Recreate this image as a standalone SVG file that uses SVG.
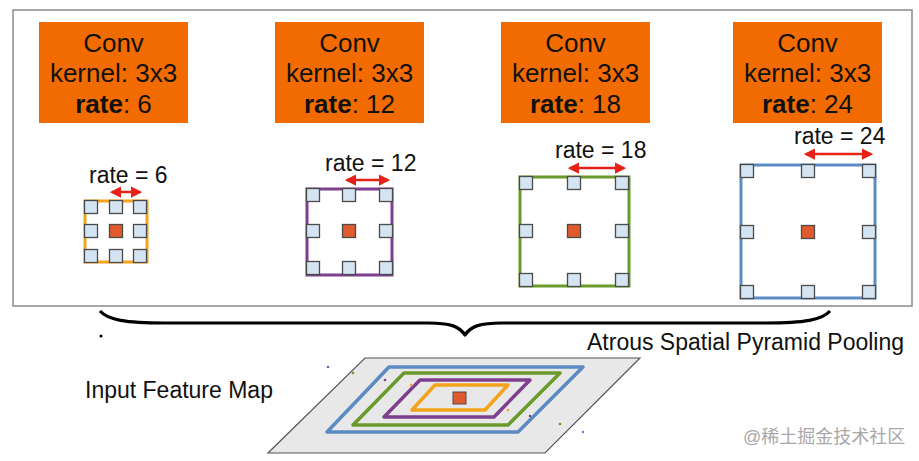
<svg xmlns="http://www.w3.org/2000/svg" width="919" height="461" viewBox="0 0 919 461">
<defs>
<style>
.conv{fill:#f26b00}
.ct{font-family:"Liberation Sans",Arial,sans-serif;font-size:26px;fill:#111;text-anchor:middle}
.lbl{font-family:"Liberation Sans",Arial,sans-serif;font-size:23px;fill:#111}
.cell{fill:#d4e4f2;stroke:#4a4a4a;stroke-width:1.3}
.ctr{fill:#e05a2e;stroke:#4a4a4a;stroke-width:1.3}
.arr{stroke:#e62117;stroke-width:2.5;fill:none;marker-start:url(#ah);marker-end:url(#ah)}
.plane{fill:none;stroke-width:3.5;stroke-linejoin:round}
</style>
<marker id="ah" viewBox="0 0 10 10" refX="8" refY="5" markerWidth="4.5" markerHeight="4.5" orient="auto-start-reverse" markerUnits="strokeWidth">
<path d="M0,0 L10,5 L0,10 Z" fill="#e62117"/>
</marker>
</defs>
<rect x="0" y="0" width="919" height="461" fill="#fff"/>
<rect id="frame" x="13" y="10" width="899" height="296" fill="#fff" stroke="#8a8a8a" stroke-width="1.5"/>

<g id="conv6"><rect class="conv" x="39" y="22" width="149" height="101"/>
<text class="ct" x="113.5" y="52">Conv</text><text class="ct" x="113.5" y="82">kernel: 3x3</text><text class="ct" x="113.5" y="113"><tspan font-weight="bold">rate</tspan>: 6</text></g>
<g id="conv12"><rect class="conv" x="275" y="22" width="149" height="101"/>
<text class="ct" x="349.5" y="52">Conv</text><text class="ct" x="349.5" y="82">kernel: 3x3</text><text class="ct" x="349.5" y="113"><tspan font-weight="bold">rate</tspan>: 12</text></g>
<g id="conv18"><rect class="conv" x="501" y="22" width="149" height="101"/>
<text class="ct" x="575.5" y="52">Conv</text><text class="ct" x="575.5" y="82">kernel: 3x3</text><text class="ct" x="575.5" y="113"><tspan font-weight="bold">rate</tspan>: 18</text></g>
<g id="conv24"><rect class="conv" x="733" y="22" width="149" height="101"/>
<text class="ct" x="807.5" y="52">Conv</text><text class="ct" x="807.5" y="82">kernel: 3x3</text><text class="ct" x="807.5" y="113"><tspan font-weight="bold">rate</tspan>: 24</text></g>

<g id="kernel6">
<rect x="85" y="201" width="62" height="61" fill="none" stroke="#f5a31a" stroke-width="3"/>
<text class="lbl" x="89" y="183">rate = 6</text>
<line class="arr" x1="112" y1="192" x2="140" y2="192"/>
<rect class="cell" x="84.5" y="200.5" width="13" height="13"/><rect class="cell" x="109.5" y="200.5" width="13" height="13"/><rect class="cell" x="133.5" y="200.5" width="13" height="13"/>
<rect class="cell" x="84.5" y="224.5" width="13" height="13"/><rect class="ctr" x="109.5" y="224.5" width="13" height="13"/><rect class="cell" x="133.5" y="224.5" width="13" height="13"/>
<rect class="cell" x="84.5" y="249.5" width="13" height="13"/><rect class="cell" x="109.5" y="249.5" width="13" height="13"/><rect class="cell" x="133.5" y="249.5" width="13" height="13"/>
</g>

<g id="kernel12">
<rect x="307" y="189" width="85" height="86" fill="none" stroke="#7d3f8e" stroke-width="3"/>
<text class="lbl" x="325" y="171">rate = 12</text>
<line class="arr" x1="347" y1="180" x2="388" y2="180"/>
<rect class="cell" x="306.5" y="188.5" width="13" height="13"/><rect class="cell" x="342.5" y="188.5" width="13" height="13"/><rect class="cell" x="379.5" y="188.5" width="13" height="13"/>
<rect class="cell" x="306.5" y="224.5" width="13" height="13"/><rect class="ctr" x="342.5" y="224.5" width="13" height="13"/><rect class="cell" x="379.5" y="224.5" width="13" height="13"/>
<rect class="cell" x="306.5" y="261.5" width="13" height="13"/><rect class="cell" x="342.5" y="261.5" width="13" height="13"/><rect class="cell" x="379.5" y="261.5" width="13" height="13"/>
</g>

<g id="kernel18">
<rect x="520" y="177" width="109" height="109" fill="none" stroke="#6a9a2b" stroke-width="3"/>
<text class="lbl" x="555" y="158">rate = 18</text>
<line class="arr" x1="570" y1="168" x2="624" y2="168"/>
<rect class="cell" x="519.5" y="176.5" width="13" height="13"/><rect class="cell" x="567.5" y="176.5" width="13" height="13"/><rect class="cell" x="615.5" y="176.5" width="13" height="13"/>
<rect class="cell" x="519.5" y="224.5" width="13" height="13"/><rect class="ctr" x="567.5" y="224.5" width="13" height="13"/><rect class="cell" x="615.5" y="224.5" width="13" height="13"/>
<rect class="cell" x="519.5" y="273.5" width="13" height="13"/><rect class="cell" x="567.5" y="273.5" width="13" height="13"/><rect class="cell" x="615.5" y="273.5" width="13" height="13"/>
</g>

<g id="kernel24">
<rect x="741" y="165" width="134" height="133" fill="none" stroke="#5b8bc2" stroke-width="3"/>
<text class="lbl" x="794" y="144">rate = 24</text>
<line class="arr" x1="806" y1="154" x2="871" y2="154"/>
<rect class="cell" x="740.5" y="164.5" width="13" height="13"/><rect class="cell" x="801.5" y="164.5" width="13" height="13"/><rect class="cell" x="862.5" y="164.5" width="13" height="13"/>
<rect class="cell" x="740.5" y="225.5" width="13" height="13"/><rect class="ctr" x="801.5" y="225.5" width="13" height="13"/><rect class="cell" x="862.5" y="225.5" width="13" height="13"/>
<rect class="cell" x="740.5" y="285.5" width="13" height="13"/><rect class="cell" x="801.5" y="285.5" width="13" height="13"/><rect class="cell" x="862.5" y="285.5" width="13" height="13"/>
</g>

<g id="connectors">
<path d="M100,311 C108,320 125,323 165,323 L428,323 C450,323 459,326 465,335 C471,326 480,323 502,323 L765,323 C805,323 822,320 830,311" fill="none" stroke="#000" stroke-width="3.2" stroke-linejoin="round"/>
</g>
<circle cx="101" cy="336" r="1.6" fill="#000"/>
<text class="lbl" x="587" y="350">Atrous Spatial Pyramid Pooling</text>

<g id="input-map">
<polygon points="365,358 640,358 545,453 268,453" fill="#e8e8e8" stroke="#555" stroke-width="1.2"/>
<polygon class="plane" points="389,367 583,367 518,432 327,432" stroke="#5b8bc2"/>
<polygon class="plane" points="404,373 560,373 508,425 353,425" stroke="#6a9a2b"/>
<polygon class="plane" points="420,380 530,380 494,417 384,417" stroke="#7d3f8e"/>
<polygon class="plane" points="435,385 508,385 485,410 412,410" stroke="#f5a31a"/>
<rect x="453" y="392" width="13" height="12" fill="#e05a2e" stroke="#4a4a4a" stroke-width="1"/>
<circle cx="328" cy="367" r="1.3" fill="#6a6a9a"/>
<circle cx="353" cy="373" r="1.3" fill="#6a9a2b"/>
<circle cx="385" cy="380" r="1.3" fill="#7d3f8e"/>
<circle cx="411" cy="385" r="1.3" fill="#f5a31a"/>
<circle cx="508" cy="410" r="1.3" fill="#f5a31a"/>
<circle cx="530" cy="416" r="1.3" fill="#7d3f8e"/>
<circle cx="560" cy="424" r="1.3" fill="#6a9a2b"/>
<circle cx="583" cy="432" r="1.3" fill="#5b8bc2"/>
</g>
<text class="lbl" x="85" y="398">Input Feature Map</text>
<text x="743" y="443" font-family="'Liberation Sans','Noto Sans CJK SC',sans-serif" font-size="18" fill="#a8a8a8">@稀土掘金技术社区</text>
</svg>
